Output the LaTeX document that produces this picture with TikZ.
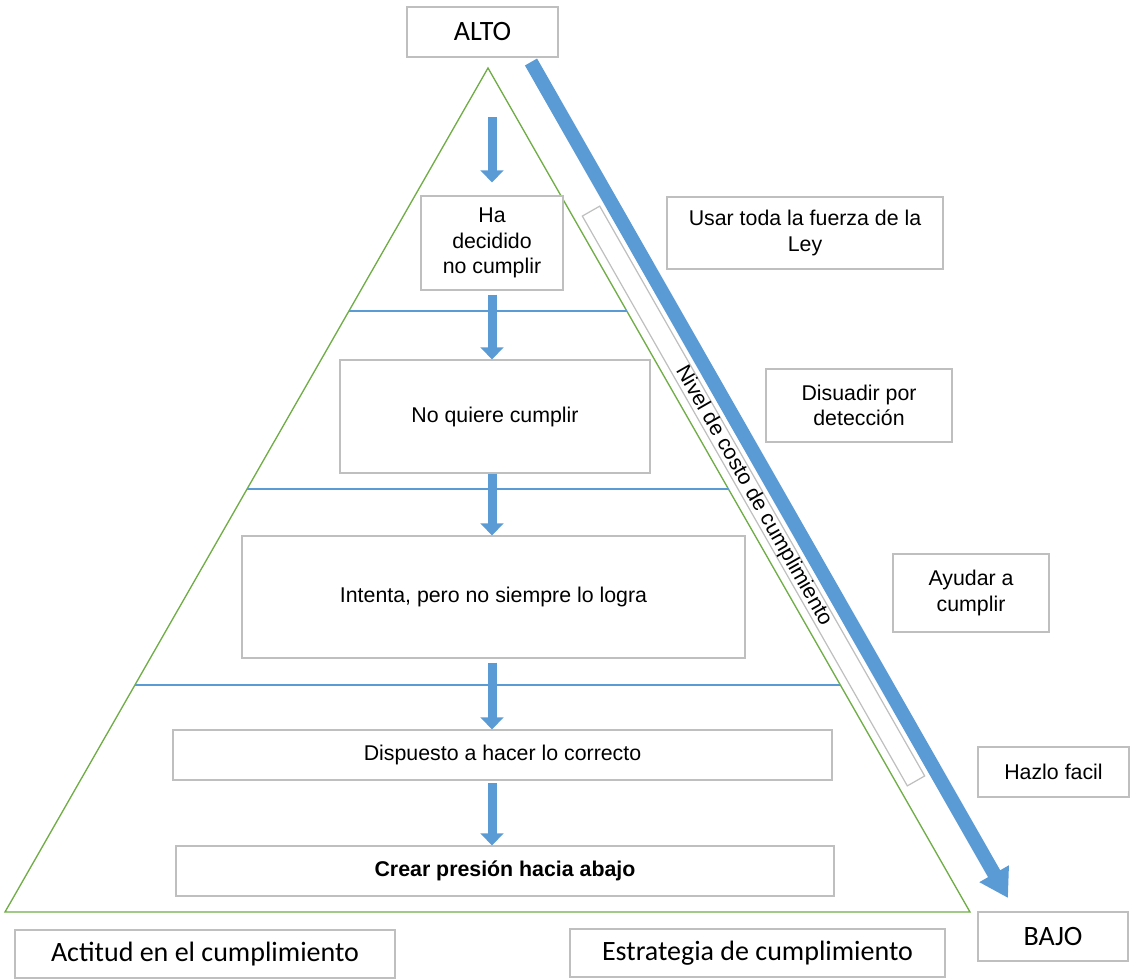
\documentclass[tikz,border=0pt]{standalone}
\usepackage{fontspec}
\setmainfont{Liberation Sans}
\newfontfamily\calfont{Carlito}
\usetikzlibrary{arrows.meta,calc}
\definecolor{arrblue}{HTML}{5B9BD5}
\definecolor{linegreen}{HTML}{70AD47}
\definecolor{boxgray}{HTML}{BFBFBF}

\begin{document}
\begin{tikzpicture}[x=0.75pt,y=-0.75pt,
  box/.style={draw=boxgray, line width=0.9pt, fill=white, inner sep=0pt, align=center, font=\fontsize{16}{19}\selectfont},
  calbox/.style={box, font=\calfont\fontsize{21}{25}\selectfont},
  smallarr/.style={arrblue, line width=6.75pt, -{Triangle[width=17pt,length=9pt]}},
  bigarr/.style={arrblue, line width=10.5pt, -{Triangle[width=24pt,length=21pt]}},
  level/.style={draw=arrblue, line width=1pt}]
\useasboundingbox (0,0) rectangle (1130,979);
% pyramid
\coordinate (apex) at (488,68);
\coordinate (bl) at (5,912);
\coordinate (br) at (970,912);
\draw[linegreen, line width=1pt] (apex) -- (bl) -- (br) -- cycle;
\foreach \lv in {0.288,0.499,0.731}
  \draw[level] ($(apex)!\lv!(bl)$) -- ($(apex)!\lv!(br)$);
% attitudes
\node[box, minimum width=106.5pt, minimum height=70.5pt] (b1) at (492,243) {Ha\\decidido\\no cumplir};
\node[box, minimum width=232.5pt, minimum height=84.75pt] (b2) at (495,416.5) {No quiere cumplir};
\node[box, minimum width=377.25pt, minimum height=91.5pt] (b3) at (493.5,597) {Intenta, pero no siempre lo logra};
\node[box, minimum width=494.25pt, minimum height=37.5pt] (b4) at (502.5,755) {Dispuesto a hacer lo correcto};
\node[box, minimum width=493.5pt, minimum height=37.5pt, font=\fontsize{16}{19}\selectfont\bfseries] (b5) at (505,871) {Crear presión hacia abajo};
% strategies
\node[box, minimum width=207pt, minimum height=54pt] (ley) at (805,233) {Usar toda la fuerza de la\\Ley};
\node[box, minimum width=139.5pt, minimum height=54.75pt] (disuadir) at (859,405.5) {Disuadir por\\detección};
\node[box, minimum width=117pt, minimum height=58.5pt] (ayudar) at (971,593) {Ayudar a\\cumplir};
\node[box, minimum width=113.25pt, minimum height=37.5pt] (hazlo) at (1053.5,772) {Hazlo facil};
% labels
\node[calbox, minimum width=113.25pt, minimum height=37.5pt] (alto) at (482.5,32) {ALTO};
\node[calbox, minimum width=112.5pt, minimum height=36.75pt] (bajo) at (1053,936.5) {BAJO};
\node[calbox, minimum width=285pt, minimum height=36pt] (actitud) at (205,954) {Actitud en el cumplimiento};
\node[calbox, minimum width=281.25pt, minimum height=36pt] (estrategia) at (757.5,953) {Estrategia de cumplimiento};
\node[box, minimum width=492pt, minimum height=15pt, rotate=-60.3] (nivel) at (753.5,496) {Nivel de costo de cumplimiento};
% arrows
\coordinate (s0) at (492,117);
\draw[smallarr] (s0) -- ([yshift=9.75pt]b1.north);
\draw[smallarr, shorten <=3pt] (b1.south) -- (b1.south |- b2.north);
\draw[smallarr] (b1.south |- b2.south) -- (b1.south |- b3.north);
\draw[smallarr, shorten <=3pt] (b1.south |- b3.south) -- (b1.south |- b4.north);
\draw[smallarr, shorten <=2pt] (b1.south |- b4.south) -- (b1.south |- b5.north);
\coordinate (hi) at (531,62);
\coordinate (lo) at (1008,898);
\draw[bigarr] (hi) -- (lo);
\end{tikzpicture}
\end{document}
